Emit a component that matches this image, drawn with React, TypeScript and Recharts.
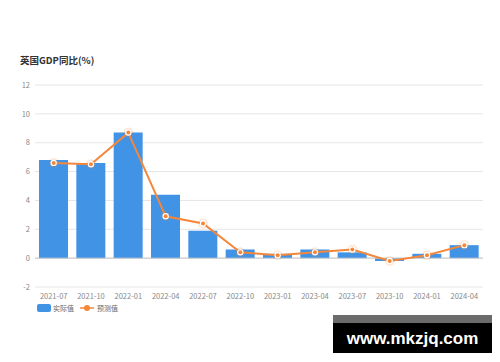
import React from 'react';
import { ComposedChart, Bar, Line, XAxis, YAxis, CartesianGrid, ReferenceLine } from 'recharts';

const categories = ['2021-07', '2021-10', '2022-01', '2022-04', '2022-07', '2022-10', '2023-01', '2023-04', '2023-07', '2023-10', '2024-01', '2024-04'];
const actualValues = [6.8, 6.6, 8.7, 4.4, 1.9, 0.6, 0.3, 0.6, 0.4, -0.2, 0.3, 0.9];
const forecastValues = [6.6, 6.5, 8.7, 2.9, 2.4, 0.4, 0.2, 0.4, 0.6, -0.2, 0.2, 0.9];
const yTicks = [-2, 0, 2, 4, 6, 8, 10, 12];

const data = categories.map((c, i) => ({ name: c, actual: actualValues[i], forecast: forecastValues[i] }));

const BLUE = '#4193e6';
const ORANGE = '#f5873a';
const FONT = '"Noto Sans CJK SC", "Noto Sans", sans-serif';

const Dot = (props: any) => {
  const { cx, cy } = props;
  if (cx == null || cy == null) return null;
  return (
    <g>
      <circle cx={cx} cy={cy} r={5} fill={ORANGE} fillOpacity={0.18} />
      <circle cx={cx} cy={cy} r={3.2} fill="#fff" />
      <circle cx={cx} cy={cy} r={2} fill={ORANGE} />
    </g>
  );
};

export default function App() {
  return (
    <div style={{ position: 'absolute', left: 0, top: 0, width: 500, height: 362, background: '#fff', fontFamily: FONT }}>
      <div style={{ position: 'absolute', left: 20, top: 53, fontSize: 9.5, fontWeight: 700, color: '#333', fontFamily: FONT }}>
        英国GDP同比(%)
      </div>
      <ComposedChart width={500} height={362} data={data} margin={{ top: 85, right: 17, bottom: 55, left: 0 }}>
        <CartesianGrid vertical={false} stroke="#e6e6e6" strokeWidth={1} />
        <XAxis
          dataKey="name"
          axisLine={false}
          tickLine={false}
          tickSize={0}
          tickMargin={7}
          height={20}
          interval={0}
          tick={{ fontSize: 7.5, fill: '#888', fontFamily: FONT }}
        />
        <YAxis
          domain={[-2, 12]}
          ticks={yTicks}
          axisLine={false}
          tickLine={false}
          tickSize={0}
          tickMargin={5}
          width={35}
          tick={{ fontSize: 7.5, fill: '#888', fontFamily: FONT }}
        />
        <ReferenceLine y={0} stroke="#c8c8c8" strokeWidth={1} />
        <Bar dataKey="actual" name="实际值" fill={BLUE} barSize={29} isAnimationActive={false} />
        <Line
          dataKey="forecast"
          name="预测值"
          type="linear"
          stroke={ORANGE}
          strokeWidth={2}
          dot={<Dot />}
          activeDot={false}
          isAnimationActive={false}
        />
      </ComposedChart>
      <div style={{ position: 'absolute', left: 37, top: 303, display: 'flex', alignItems: 'center', fontFamily: FONT, fontSize: 7, color: '#666' }}>
        <div style={{ width: 14, height: 8, background: BLUE, borderRadius: 2, marginRight: 2 }} />
        <span style={{ marginRight: 6 }}>实际值</span>
        <svg width={14} height={8} style={{ marginRight: 3 }}>
          <line x1={0} y1={4} x2={14} y2={4} stroke={ORANGE} strokeWidth={1.5} />
          <circle cx={7} cy={4} r={3} fill={ORANGE} />
        </svg>
        <span>预测值</span>
      </div>
      <div style={{ position: 'absolute', left: 333, top: 315, width: 159, height: 8, background: '#6b6b6b' }} />
      <div
        style={{
          position: 'absolute', left: 333, top: 323, width: 159, height: 30, background: '#000', color: '#fff',
          fontFamily: '"Liberation Sans", Arial, sans-serif', fontWeight: 700, fontSize: 17,
          display: 'flex', alignItems: 'center', justifyContent: 'center', lineHeight: 1,
        }}
      >
        www.mkzjq.com
      </div>
    </div>
  );
}
